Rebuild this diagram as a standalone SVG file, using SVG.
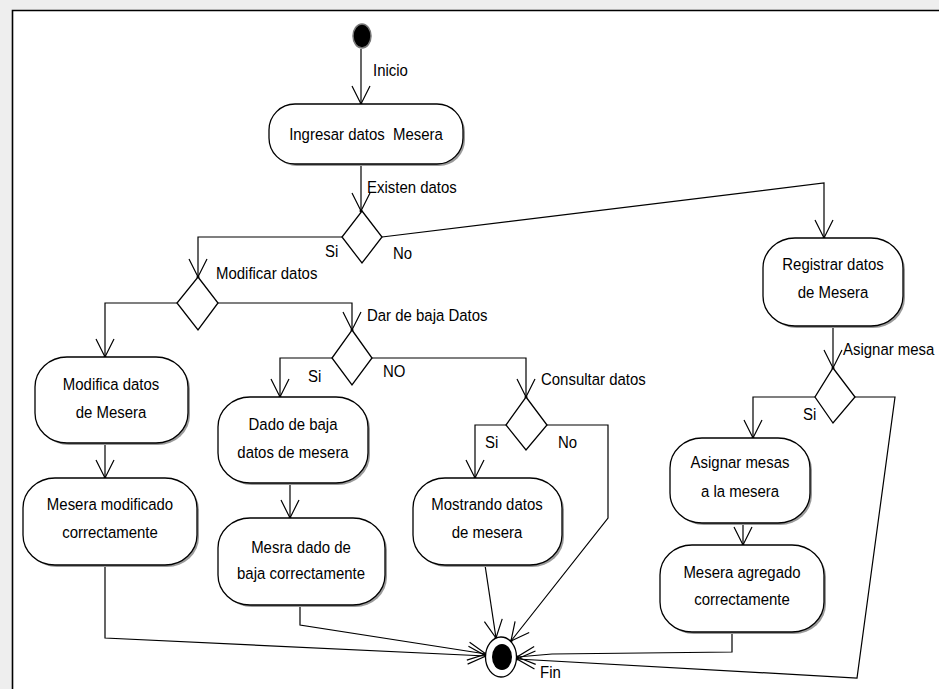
<svg xmlns="http://www.w3.org/2000/svg" width="939" height="689" viewBox="0 0 939 689">
  <defs>
    <marker id="open" viewBox="-20 -12 24 24" refX="0" refY="0" markerWidth="24" markerHeight="24" markerUnits="userSpaceOnUse" orient="auto">
      <path d="M-18,-9 L0,0 L-18,9" fill="none" stroke="#000" stroke-width="1.2"/>
      <circle cx="0" cy="0" r="1.5" fill="#000"/>
    </marker>
  </defs>
  <style>
    text { font-family: "Liberation Sans", Arial, sans-serif; font-size: 17px; fill: #000; }
    .c { text-anchor: middle; }
    .act .sh { fill: #9a9a9a; stroke: none; }
    .act .bx { fill: #fff; stroke: #000; stroke-width: 1.3; }
    .dec polygon { fill: #fff; stroke: #000; stroke-width: 1.3; }
    #edges path { fill: none; stroke: #000; stroke-width: 1.2; marker-end: url(#open); }
  </style>

  <!-- canvas frame -->
  <rect x="0" y="0" width="939" height="689" fill="#eeeeee"/>
  <rect x="12" y="10" width="927" height="679" fill="#fff"/>
  <path d="M12.5,689 V10.5 H939" fill="none" stroke="#000" stroke-width="1.6"/>

  <!-- connectors -->
  <g id="edges">
    <path d="M361,49 V104"/>
    <path d="M361,164 V211"/>
    <path d="M342,237 H198 V277"/>
    <path d="M382,237 L824,183 V238"/>
    <path d="M177,303 H105 V357"/>
    <path d="M218,303 H352 V330"/>
    <path d="M332,358 H280 V397"/>
    <path d="M372,358 H526 V397"/>
    <path d="M506,425 H475 V478"/>
    <path d="M547,425 H608 V518 L511,641"/>
    <path d="M105,443 V478"/>
    <path d="M105,565 V638 L486,656"/>
    <path d="M290,483 V518"/>
    <path d="M300,605 V625 L486,654"/>
    <path d="M485,565 L496,638"/>
    <path d="M833,327 V368"/>
    <path d="M815,397 H753 V438"/>
    <path d="M855,397 H895 L857,678 L517,659"/>
    <path d="M743,523 V545"/>
    <path d="M732,632 V652 L552,654 L517,657"/>
  </g>

  <!-- start -->
  <g id="start">
    <ellipse cx="362" cy="36" rx="9" ry="12" fill="#000" stroke="#777" stroke-width="1.5"/>
  </g>

  <!-- activities (text is narrowed horizontally) -->
  <g id="ingresar" class="act">
    <rect class="sh" x="271" y="106" width="194" height="60" rx="26" ry="26"/>
    <rect class="bx" x="269" y="104" width="194" height="60" rx="26" ry="26"/>
    <text class="c" transform="translate(366,140) scale(0.88,1)" xml:space="preserve">Ingresar datos  Mesera</text>
  </g>
  <g id="registrar" class="act">
    <rect class="sh" x="765" y="240" width="140" height="88" rx="32" ry="30"/>
    <rect class="bx" x="763" y="238" width="140" height="88" rx="32" ry="30"/>
    <text class="c" transform="translate(833,270) scale(0.88,1)">Registrar datos</text>
    <text class="c" transform="translate(833,298) scale(0.88,1)">de Mesera</text>
  </g>
  <g id="modifica" class="act">
    <rect class="sh" x="37" y="359" width="153" height="86" rx="32" ry="30"/>
    <rect class="bx" x="35" y="357" width="153" height="86" rx="32" ry="30"/>
    <text class="c" transform="translate(111,390) scale(0.88,1)">Modifica datos</text>
    <text class="c" transform="translate(111,418) scale(0.88,1)">de Mesera</text>
  </g>
  <g id="mesera-modificado" class="act">
    <rect class="sh" x="25" y="480" width="174" height="87" rx="32" ry="30"/>
    <rect class="bx" x="23" y="478" width="174" height="87" rx="32" ry="30"/>
    <text class="c" transform="translate(110,510) scale(0.88,1)">Mesera modificado</text>
    <text class="c" transform="translate(110,538) scale(0.88,1)">correctamente</text>
  </g>
  <g id="dado-baja" class="act">
    <rect class="sh" x="220" y="399" width="150" height="86" rx="32" ry="30"/>
    <rect class="bx" x="218" y="397" width="150" height="86" rx="32" ry="30"/>
    <text class="c" transform="translate(293,430) scale(0.88,1)">Dado de baja</text>
    <text class="c" transform="translate(293,458) scale(0.88,1)">datos de mesera</text>
  </g>
  <g id="mesra-dado" class="act">
    <rect class="sh" x="220" y="520" width="167" height="87" rx="32" ry="30"/>
    <rect class="bx" x="218" y="518" width="167" height="87" rx="32" ry="30"/>
    <text class="c" transform="translate(301,553) scale(0.88,1)">Mesra dado de</text>
    <text class="c" transform="translate(301,579) scale(0.88,1)">baja correctamente</text>
  </g>
  <g id="mostrando" class="act">
    <rect class="sh" x="415" y="480" width="149" height="87" rx="32" ry="30"/>
    <rect class="bx" x="413" y="478" width="149" height="87" rx="32" ry="30"/>
    <text class="c" transform="translate(487,510) scale(0.88,1)">Mostrando datos</text>
    <text class="c" transform="translate(487,538) scale(0.88,1)">de mesera</text>
  </g>
  <g id="asignar-mesas" class="act">
    <rect class="sh" x="672" y="440" width="140" height="85" rx="32" ry="30"/>
    <rect class="bx" x="670" y="438" width="140" height="85" rx="32" ry="30"/>
    <text class="c" transform="translate(740,468) scale(0.88,1)">Asignar mesas</text>
    <text class="c" transform="translate(740,497) scale(0.88,1)">a la mesera</text>
  </g>
  <g id="mesera-agregado" class="act">
    <rect class="sh" x="662" y="547" width="164" height="87" rx="32" ry="30"/>
    <rect class="bx" x="660" y="545" width="164" height="87" rx="32" ry="30"/>
    <text class="c" transform="translate(742,578) scale(0.88,1)">Mesera agregado</text>
    <text class="c" transform="translate(742,605) scale(0.88,1)">correctamente</text>
  </g>

  <!-- decisions -->
  <g id="existen" class="dec"><polygon points="362,211 382,237 362,263 342,237"/></g>
  <g id="modificar" class="dec"><polygon points="198,277 218,303 198,330 177,303"/></g>
  <g id="dar-baja" class="dec"><polygon points="352,330 372,358 352,385 332,358"/></g>
  <g id="consultar" class="dec"><polygon points="526,397 547,425 526,450 506,425"/></g>
  <g id="asignar" class="dec"><polygon points="833,368 855,397 833,423 815,397"/></g>

  <!-- end -->
  <g id="fin">
    <ellipse cx="501" cy="657" rx="15.5" ry="20" fill="#fff" stroke="#000" stroke-width="1.3"/>
    <ellipse cx="502" cy="657" rx="10" ry="13" fill="#000"/>
  </g>

  <!-- guard and flow labels -->
  <g id="labels">
    <text transform="translate(373,76) scale(0.88,1)">Inicio</text>
    <text transform="translate(367,193) scale(0.88,1)">Existen datos</text>
    <text transform="translate(325,257) scale(0.88,1)">Si</text>
    <text transform="translate(393,259) scale(0.88,1)">No</text>
    <text transform="translate(216,279) scale(0.88,1)">Modificar datos</text>
    <text transform="translate(367,321) scale(0.88,1)">Dar de baja Datos</text>
    <text transform="translate(308,382) scale(0.88,1)">Si</text>
    <text transform="translate(383,377) scale(0.88,1)">NO</text>
    <text transform="translate(541,385) scale(0.88,1)">Consultar datos</text>
    <text transform="translate(485,448) scale(0.88,1)">Si</text>
    <text transform="translate(558,448) scale(0.88,1)">No</text>
    <text transform="translate(843,355) scale(0.88,1)">Asignar mesa</text>
    <text transform="translate(803,420) scale(0.88,1)">Si</text>
    <text transform="translate(540,678) scale(0.88,1)">Fin</text>
  </g>
</svg>
